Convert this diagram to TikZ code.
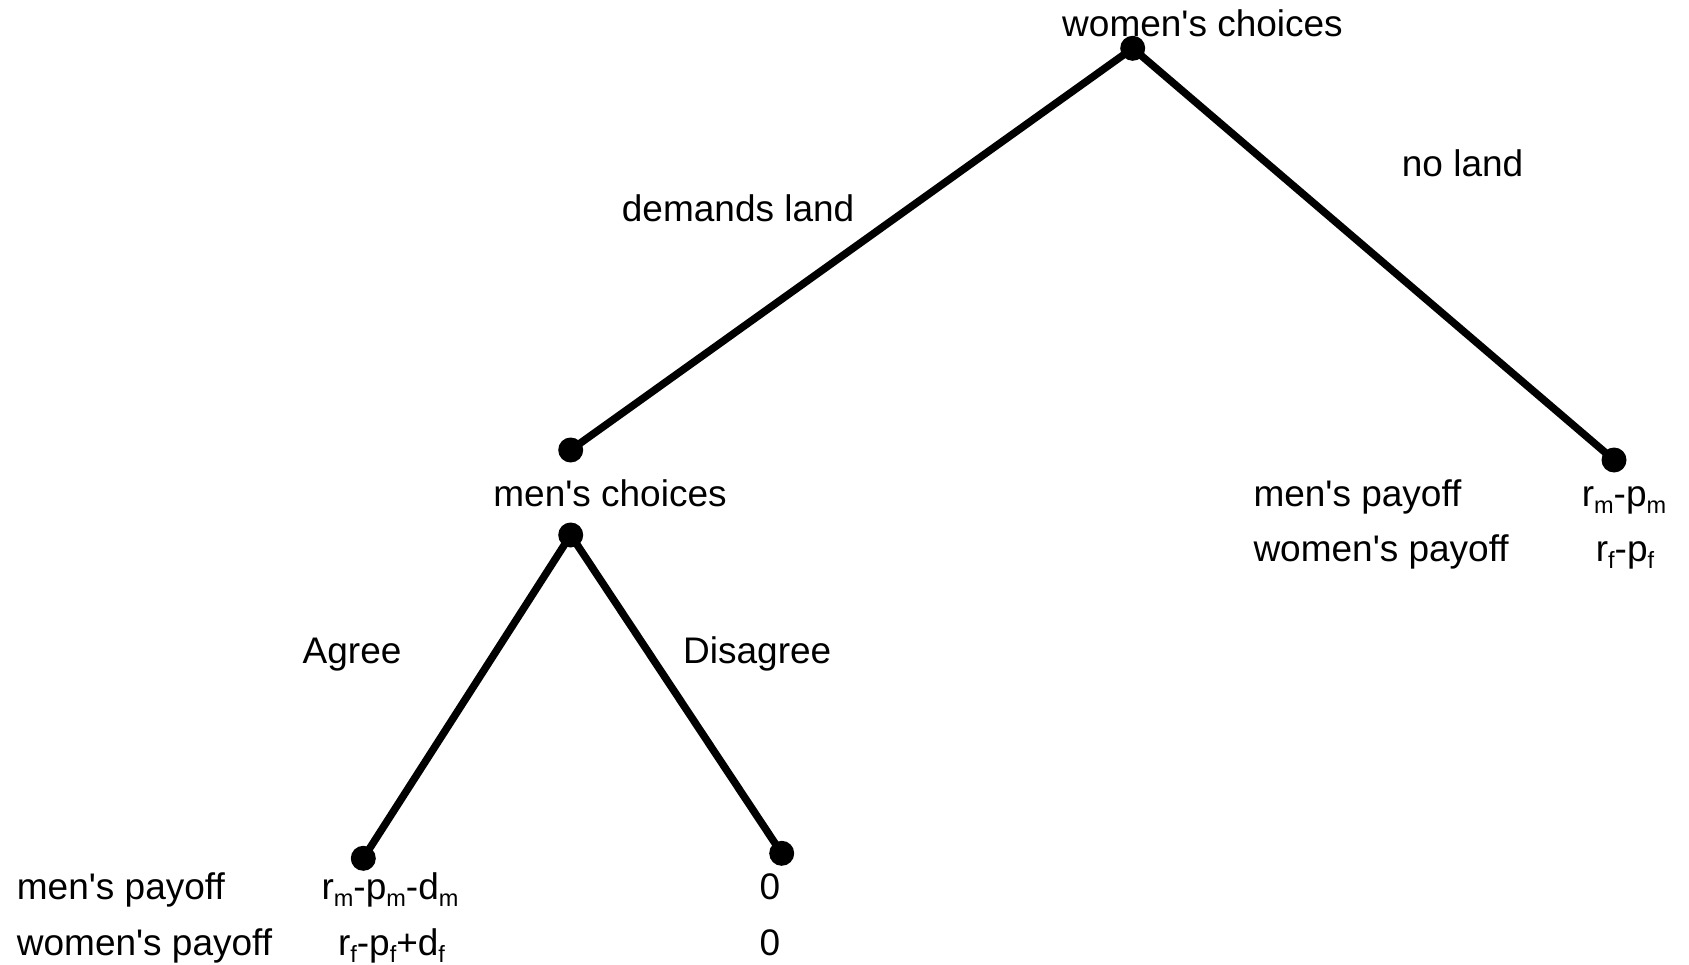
\documentclass[tikz,border=0pt]{standalone}
\usepackage{fontspec}
\setmainfont{Liberation Sans}
\newcommand\sbs[1]{\raisebox{-7pt}{\fontsize{23.5}{26}\selectfont #1}}
\newcommand\apos{\textquotesingle}
\begin{document}
\begin{tikzpicture}[x=1pt,y=-1pt,
  dot/.style={circle,fill=black,inner sep=0pt,minimum size=25pt},
  lbl/.style={anchor=base west,inner sep=0pt,font=\fontsize{37}{44}\selectfont},
  lblc/.style={anchor=base,inner sep=0pt,font=\fontsize{37}{44}\selectfont},
  branch/.style={line width=7.5pt}]
\useasboundingbox (0,0) rectangle (1689,965);
% decision nodes
\node[dot] (w) at (1132.7,48.3) {};
\node[dot] (m1) at (570.7,450) {};
\node[dot] (m2) at (570.7,535) {};
\node[dot] (r) at (1614,460) {};
\node[dot] (a) at (363.3,858.3) {};
\node[dot] (d) at (781.7,853.3) {};
% branches
\draw[branch] (w.center) -- (m1.center);
\draw[branch] (w.center) -- (r.center);
\draw[branch] (m2.center) -- (a.center);
\draw[branch] (m2.center) -- (d.center);
% labels
\node[lblc] (wl) at (1202.5,37) {women\apos s choices};
\node[lblc] (ml) at (610,506) {men\apos s choices};
\node[lbl] (dl) at (621.7,221.5) {demands land};
\node[lbl] (nl) at (1401.7,177) {no land};
\node[lbl] (ag) at (302.5,663) {Agree};
\node[lbl] (dg) at (683,663) {Disagree};
% right payoffs
\node[lbl] (rmp) at (1253.3,506) {men\apos s payoff};
\node[lbl] (rwp) at (1253.3,561.5) {women\apos s payoff};
\node[lblc] (rmv) at (1624,506) {r\sbs{m}-p\sbs{m}};
\node[lblc] (rwv) at (1625,561.5) {r\sbs{f}-p\sbs{f}};
% bottom payoffs
\node[lbl] (bmp) at (16.7,899) {men\apos s payoff};
\node[lbl] (bwp) at (16.7,955.5) {women\apos s payoff};
\node[lblc] (amv) at (390,899) {r\sbs{m}-p\sbs{m}-d\sbs{m}};
\node[lblc] (awv) at (391.5,955.5) {r\sbs{f}-p\sbs{f}+d\sbs{f}};
\node[lblc] (dmv) at (770,899) {0};
\node[lblc] (dwv) at (770,955.5) {0};
\end{tikzpicture}
\end{document}
